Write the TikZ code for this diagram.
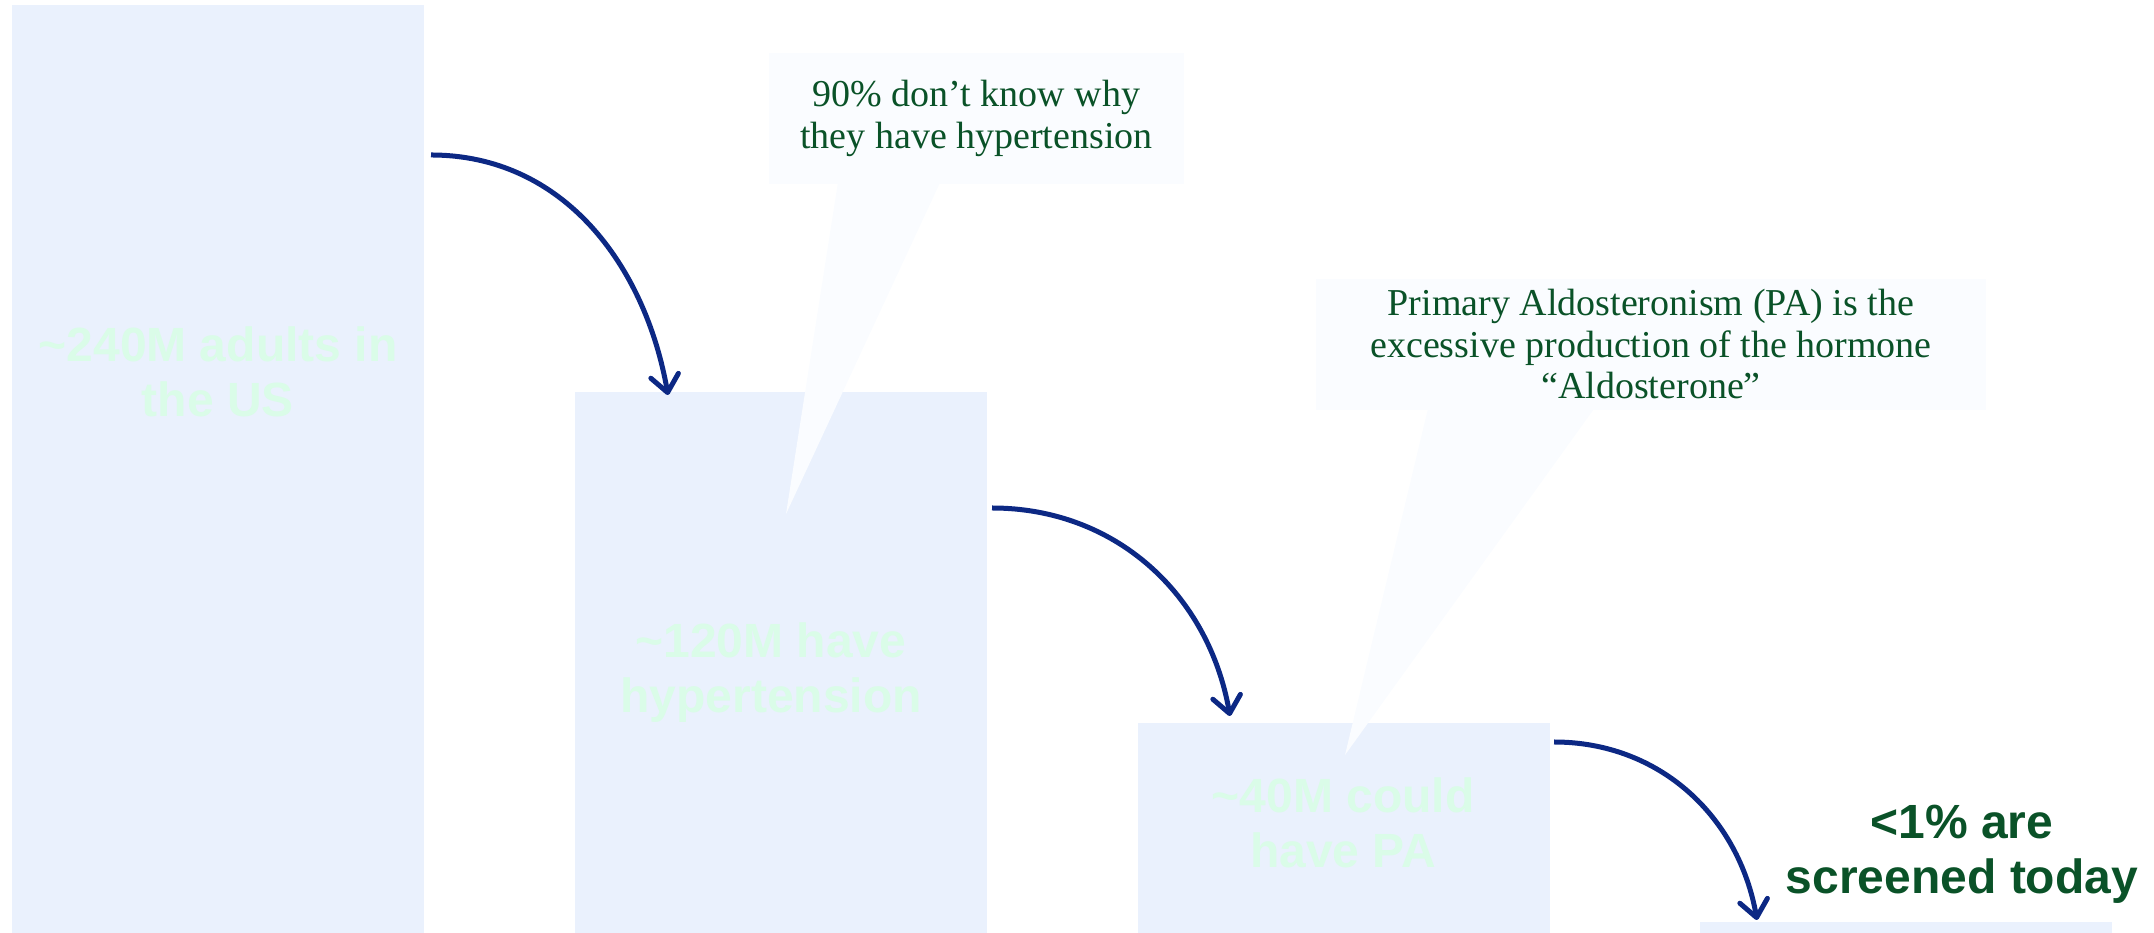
\documentclass[tikz,border=0pt]{standalone}
\usepackage{fontspec}
\setmainfont{Liberation Serif}
\newfontfamily\arialfont{Liberation Sans}
\usetikzlibrary{arrows.meta}

\definecolor{barblue}{RGB}{234,241,253}
\definecolor{notewhite}{RGB}{250,252,255}
\definecolor{mintfont}{RGB}{218,252,232}
\definecolor{darkgreen}{RGB}{10,82,40}
\definecolor{navy}{RGB}{12,40,132}

\begin{document}
\begin{tikzpicture}[x=1pt, y=1pt,
    bar/.style={fill=barblue, inner sep=0, minimum width=412pt},
    barlabel/.style={text=mintfont, align=center, inner sep=0,
        font=\arialfont\bfseries\fontsize{48}{55}\selectfont},
    note/.style={fill=notewhite, align=center, inner sep=0, text=darkgreen,
        font=\fontsize{38}{41.5}\selectfont},
    flow/.style={draw=navy, line width=5pt,
        -{Straight Barb[length=17pt, width=28pt, round]}}]
  \useasboundingbox (0,0) rectangle (2154,933);
  % the four bars
  \node[bar, minimum height=928pt] (bar1) at (218,464) {};
  \node[bar, minimum height=541pt] (bar2) at (781,270.5) {};
  \node[bar, minimum height=210pt] (bar3) at (1343.5,105) {};
  \node[bar, minimum height=11pt] (bar4) at (1906,5.5) {};
  % notes with their tails
  \node[note, minimum width=415pt, minimum height=131pt] (note1) at (976.5,814.5)
      {90\% don’t know why\\they have hypertension};
  \coordinate (tip1) at (786,419);
  \fill[notewhite] ([xshift=69,yshift=1]note1.south west) -- (tip1)
      -- ([xshift=171,yshift=1]note1.south west) -- cycle;
  \node[note, minimum width=670pt, minimum height=131pt] (note2) at (1651,588.5)
      {Primary Aldosteronism (PA) is the\\excessive production of the hormone\\“Aldosterone”};
  \coordinate (tip2) at (1345,178);
  \fill[notewhite] ([xshift=112,yshift=1]note2.south west) -- (tip2)
      -- ([xshift=278,yshift=1]note2.south west) -- cycle;
  % labels
  \node[barlabel] (lab1) at (218,561) {\textasciitilde 240M adults in\\the US};
  \node[barlabel] (lab2) at (771,260.5) {\textasciitilde 120M have\\hypertension};
  \node[barlabel] (lab3) at (1343,110) {\textasciitilde 40M could\\have PA};
  \node[barlabel, text=darkgreen] (lab4) at (1962,78.5) {<1\% are\\screened today};
  % arrows
  \coordinate (s1) at (431,778);  \coordinate (e1) at (668,538);
  \coordinate (s2) at (992,425);  \coordinate (e2) at (1230,217);
  \coordinate (s3) at (1554,191); \coordinate (e3) at (1757,13);
  \draw[flow] (s1) to[out=0, in=100] (e1);
  \draw[flow] (s2) to[out=0, in=100] (e2);
  \draw[flow] (s3) to[out=0, in=100] (e3);
\end{tikzpicture}
\end{document}
